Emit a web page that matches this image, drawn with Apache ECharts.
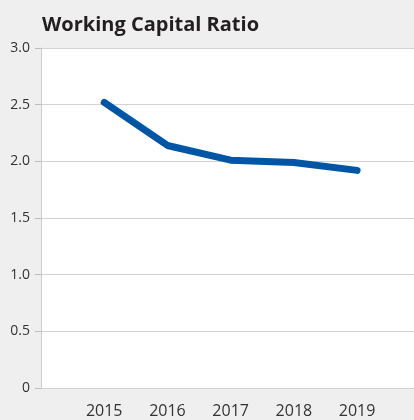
<!DOCTYPE html>
<html>
<head>
<meta charset="utf-8">
<script src="https://cdn.jsdelivr.net/npm/echarts@6/dist/echarts.min.js"></script>
<style>
html,body{margin:0;padding:0;background:#efefef;}
#c{width:414px;height:420px;}
</style>
</head>
<body>
<div id="c"></div>
<script>
var title = 'Working Capital Ratio';
var years = [2015, 2016, 2017, 2018, 2019];
var ratios = [2.52, 2.14, 2.01, 1.99, 1.92];
var yTicks = [0, 0.5, 1.0, 1.5, 2.0, 2.5, 3.0];

var chart = echarts.init(document.getElementById('c'));
chart.setOption({
  backgroundColor: '#efefef',
  animation: false,
  title: {
    text: title,
    left: 37,
    top: 10,
    textStyle: {fontFamily: 'Open Sans', fontWeight: 'bold', fontSize: 20, color: '#231f20'}
  },
  grid: {
    left: 41, right: 0, top: 48, bottom: 32,
    show: true, backgroundColor: '#ffffff', borderWidth: 0
  },
  xAxis: {
    type: 'value',
    min: years[0] - 1,
    max: years[years.length - 1] + 0.9,
    interval: 1,
    axisLine: {show: false},
    axisTick: {show: false},
    splitLine: {show: false},
    axisLabel: {
      margin: 15,
      showMaxLabel: false,
      fontFamily: 'Open Sans', fontSize: 16, color: '#333333',
      formatter: function (v) { return years.indexOf(v) >= 0 ? String(v) : ''; }
    }
  },
  yAxis: {
    type: 'value',
    min: yTicks[0],
    max: yTicks[yTicks.length - 1],
    interval: 0.5,
    axisLine: {show: true, lineStyle: {color: '#cccccc', width: 1}},
    axisTick: {show: true, length: 6, lineStyle: {color: '#bbbbbb'}},
    splitLine: {show: true, lineStyle: {color: '#d2d2d2', width: 1}},
    axisLabel: {
      margin: 11,
      fontFamily: 'Open Sans', fontSize: 14, color: '#333333',
      formatter: function (v) { return v === 0 ? '0' : v.toFixed(1); }
    }
  },
  series: [{
    type: 'line',
    data: years.map(function (y, i) { return [y, ratios[i]]; }),
    symbol: 'none',
    lineStyle: {color: '#0055a5', width: 7, cap: 'round', join: 'round'}
  }]
});
</script>
</body>
</html>
